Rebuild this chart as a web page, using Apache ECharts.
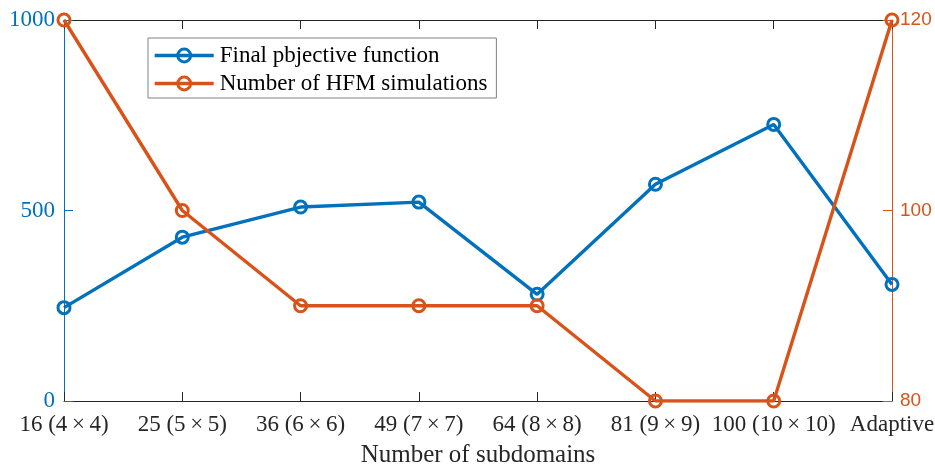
<!DOCTYPE html>
<html>
<head>
<meta charset="utf-8">
<script src="https://cdn.jsdelivr.net/npm/echarts@6/dist/echarts.min.js"></script>
<style>
  html, body { margin: 0; padding: 0; background: #fff; }
  #chart { width: 935px; height: 470px; }
</style>
</head>
<body>
<div id="chart"></div>
<script>
// Subdomain configurations on the x axis
const categories = ['16 (4\u2009\u00d7\u20094)', '25 (5\u2009\u00d7\u20095)', '36 (6\u2009\u00d7\u20096)', '49 (7\u2009\u00d7\u20097)', '64 (8\u2009\u00d7\u20098)', '81 (9\u2009\u00d7\u20099)', '100 (10\u2009\u00d7\u200910)', 'Adaptive'];
// Final objective function value (left axis)
const objectiveValues = [245, 430, 509, 522, 280, 569, 726, 306];
// Number of HFM simulations (right axis)
const hfmSimulations = [120, 100, 90, 90, 90, 80, 80, 120];
// Axis tick values
const leftTicks = [0, 500, 1000];
const rightTicks = [80, 100, 120];

const BLUE = '#0072BD';
const ORANGE = '#D95319';
const SERIF = '"Liberation Serif", "Times New Roman", serif';
const SANS = '"Liberation Sans", Arial, sans-serif';

const chart = echarts.init(document.getElementById('chart'), null, { renderer: 'canvas' });

// Line with hollow (unfilled) circle markers
const lineSeries = (name, data, color, yIndex) => ({
  name: name,
  type: 'line',
  data: data,
  yAxisIndex: yIndex,
  symbol: 'circle',
  symbolSize: 12,
  showAllSymbol: true,
  lineStyle: { color: color, width: 3.4 },
  itemStyle: { color: 'rgba(255,255,255,0)', borderColor: color, borderWidth: 3 },
  emphasis: { disabled: true },
  animation: false,
  z: 3
});

chart.setOption({
  animation: false,
  backgroundColor: '#fff',
  grid: { left: 64, right: 43, top: 20, bottom: 69, containLabel: false, outerBoundsMode: 'none' },
  legend: {
    orient: 'vertical',
    left: 148,
    top: 38,
    padding: [6, 9, 3, 5],
    itemGap: 5,
    itemWidth: 59,
    itemHeight: 16,
    borderColor: '#808080',
    borderWidth: 1,
    backgroundColor: '#fff',
    lineStyle: { width: 3.4 },
    itemStyle: { borderWidth: 3 },
    textStyle: { fontFamily: SERIF, fontSize: 23, color: '#000', padding: [0, 0, 0, 1] },
    data: ['Final pbjective function', 'Number of HFM simulations']
  },
  xAxis: [
    {
      type: 'category',
      data: categories,
      boundaryGap: false,
      position: 'bottom',
      name: 'Number of subdomains',
      nameLocation: 'middle',
      nameGap: 42,
      nameTextStyle: { fontFamily: SERIF, fontSize: 25, color: '#262626' },
      axisLine: { show: true, lineStyle: { color: '#262626', width: 1 } },
      axisTick: { show: true, inside: true, length: 9, alignWithLabel: true, lineStyle: { color: '#262626' } },
      axisLabel: { fontFamily: SERIF, fontSize: 23, color: '#262626', margin: 12, interval: 0 },
      splitLine: { show: false }
    },
    {
      type: 'category',
      data: categories,
      boundaryGap: false,
      position: 'top',
      axisLine: { show: true, lineStyle: { color: '#262626', width: 1 } },
      axisTick: { show: true, inside: true, length: 9, lineStyle: { color: '#262626' } },
      axisLabel: { show: false },
      splitLine: { show: false }
    }
  ],
  yAxis: [
    {
      type: 'value',
      position: 'left',
      min: leftTicks[0],
      max: leftTicks[leftTicks.length - 1],
      interval: leftTicks[1] - leftTicks[0],
      axisLine: { show: true, lineStyle: { color: BLUE, width: 1 } },
      axisTick: { show: true, inside: true, length: 9, lineStyle: { color: BLUE } },
      axisLabel: { fontFamily: SERIF, fontSize: 23, color: BLUE, margin: 9, formatter: v => String(v) },
      splitLine: { show: false }
    },
    {
      type: 'value',
      position: 'right',
      min: rightTicks[0],
      max: rightTicks[rightTicks.length - 1],
      interval: rightTicks[1] - rightTicks[0],
      axisLine: { show: true, lineStyle: { color: ORANGE, width: 1 } },
      axisTick: { show: true, inside: true, length: 9, lineStyle: { color: ORANGE } },
      axisLabel: { fontFamily: SANS, fontSize: 19, color: ORANGE, margin: 8, formatter: v => String(v) },
      splitLine: { show: false }
    }
  ],
  series: [
    lineSeries('Final pbjective function', objectiveValues, BLUE, 0),
    lineSeries('Number of HFM simulations', hfmSimulations, ORANGE, 1)
  ]
});
</script>
</body>
</html>
